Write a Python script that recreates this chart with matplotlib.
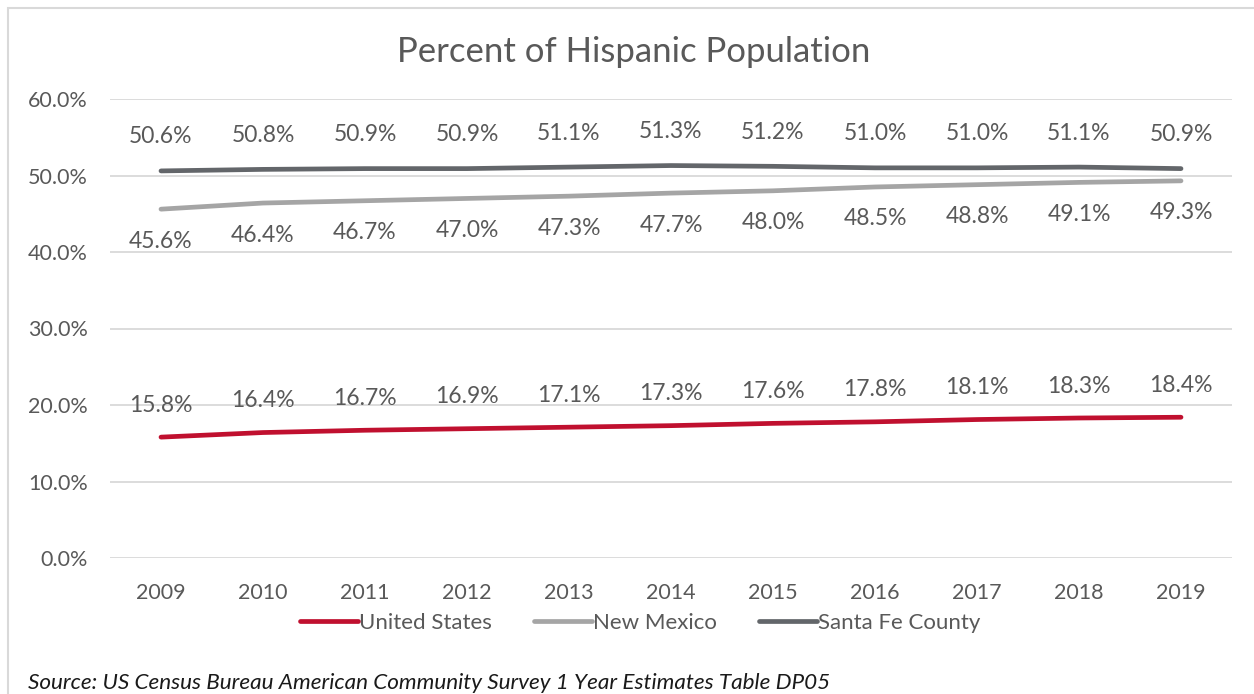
import matplotlib.pyplot as plt
from matplotlib.patches import Rectangle
from matplotlib.ticker import FuncFormatter

plt.rcParams['font.family'] = ['Lato', 'DejaVu Sans']

years = ['2009', '2010', '2011', '2012', '2013', '2014', '2015', '2016', '2017', '2018', '2019']
united_states = [15.8, 16.4, 16.7, 16.9, 17.1, 17.3, 17.6, 17.8, 18.1, 18.3, 18.4]
new_mexico = [45.6, 46.4, 46.7, 47.0, 47.3, 47.7, 48.0, 48.5, 48.8, 49.1, 49.3]
santa_fe = [50.6, 50.8, 50.9, 50.9, 51.1, 51.3, 51.2, 51.0, 51.0, 51.1, 50.9]

text_col = '#595959'
series = [
    ('United States', united_states, '#C0102F', 32),
    ('New Mexico', new_mexico, '#A5A5A5', -32),
    ('Santa Fe County', santa_fe, '#63666A', 34),
]

fig = plt.figure(figsize=(12.54, 6.94), dpi=100)
ax = fig.add_axes([110 / 1254, 1 - 558 / 694, 1122 / 1254, 459 / 694])

x = list(range(len(years)))
for name, vals, col, dy in series:
    ax.plot(x, [v / 100 for v in vals], color=col, lw=3.4, solid_capstyle='round', label=name)
    for xi, v in zip(x, vals):
        ax.annotate(f'{v:.1f}%', (xi, v / 100), xytext=(0, dy), textcoords='offset pixels',
                    ha='center', va='center', fontsize=16.5, color=text_col)

ax.set_xlim(-0.5, len(years) - 0.5)
ax.set_ylim(0, 0.6)
ax.set_yticks([i / 10 for i in range(7)])
ax.yaxis.set_major_formatter(FuncFormatter(lambda v, _: f'{v * 100:.1f}%'))
ax.set_xticks(x)
ax.set_xticklabels(years)
ax.tick_params(length=0, labelsize=15.5, labelcolor=text_col)
ax.tick_params(axis='y', pad=16)
ax.tick_params(axis='x', pad=18)
ax.grid(axis='y', color='#D9D9D9', lw=1.3)
ax.set_axisbelow(True)
for s in ax.spines.values():
    s.set_visible(False)

fig.text(634 / 1254, 1 - 52 / 694, 'Percent of Hispanic Population', ha='center', va='center',
         fontsize=25, color=text_col)

leg = fig.legend(loc='center', bbox_to_anchor=(640 / 1254, 1 - 623 / 694), ncol=3, frameon=False,
                 fontsize=16, handlelength=2.6, handletextpad=0.05, columnspacing=1.9)
for t in leg.get_texts():
    t.set_color(text_col)

fig.text(28 / 1254, 1 - 683 / 694,
         'Source: US Census Bureau American Community Survey 1 Year Estimates Table DP05',
         ha='left', va='center', fontsize=16.2, style='italic', color='#1a1a1a')

# light frame around the chart area
fig.patches.append(Rectangle((8 / 1254, -0.05), 1.1, 1.05 - 8 / 694, transform=fig.transFigure,
                             fill=False, edgecolor='#D9D9D9', lw=1.5))

fig.savefig('out.png', dpi=100)
